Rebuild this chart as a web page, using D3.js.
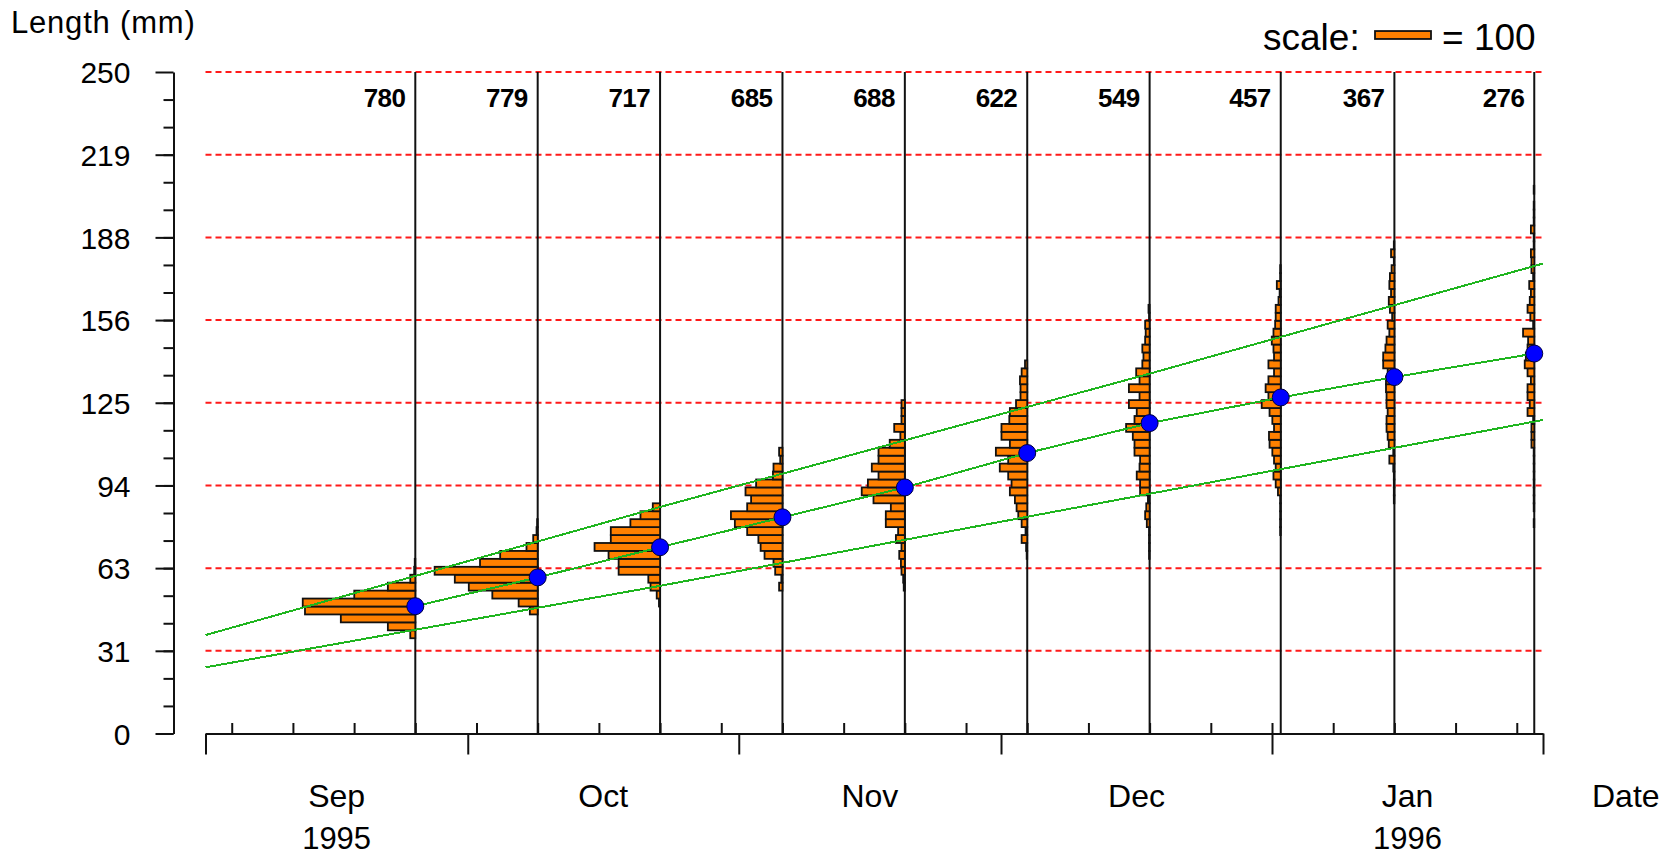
<!DOCTYPE html>
<html>
<head>
<meta charset="utf-8">
<script src="https://cdn.jsdelivr.net/npm/d3@7"></script>
<style>
  html, body { margin: 0; padding: 0; background: #fff; }
  svg { display: block; font-family: "Liberation Sans", Arial, sans-serif; }
</style>
</head>
<body>
<svg id="chart" width="1678" height="857"></svg>
<script>
// ---- Data -------------------------------------------------------------
// Fortnightly sampling dates and number of fish measured on each
const sampleDates = ["1995-09-25","1995-10-09","1995-10-23","1995-11-06","1995-11-20",
                     "1995-12-04","1995-12-18","1996-01-02","1996-01-15","1996-01-31"];
const sampleSizes = [780, 779, 717, 685, 688, 622, 549, 457, 367, 276];
// Mean length (mm) of each sample
const meanLength = [48.1, 59.0, 70.4, 81.7, 93.0, 106.0, 117.3, 127.0, 134.7, 143.6];

// Length-frequency histograms: 3 mm classes, counts listed from the lowest class up
const binWidth = 3;
const binStart = [36, 45, 48, 54, 54, 66, 66, 75, 87, 78];
const hist1  = [9, 49, 133, 197, 201, 109, 49, 9, 2, 1];
const hist2  = [14, 34, 81, 123, 148, 184, 103, 67, 20, 8, 2, 1];
const hist3  = [2, 6, 17, 21, 74, 74, 92, 117, 88, 88, 53, 35, 13];
const hist4  = [6, 2, 13, 16, 32, 39, 43, 63, 85, 92, 63, 56, 66, 47, 17, 16, 4, 6];
const hist5  = [2, 3, 6, 7, 10, 6, 16, 12, 34, 34, 25, 56, 77, 66, 47, 59, 47, 47, 27, 8, 19, 6, 6, 6];
const hist6  = [1, 2, 10, 3, 10, 16, 19, 22, 31, 28, 34, 49, 34, 56, 31, 46, 46, 32, 31, 20, 12, 12, 13, 10, 4];
const hist7  = [1, 1, 1, 1, 5, 8, 6, 3, 17, 17, 23, 18, 17, 27, 27, 30, 42, 27, 23, 37, 18, 37, 18, 24, 13, 11, 13, 8, 7, 8, 1, 2];
const hist8  = [1, 1, 1, 1, 1, 5, 9, 13, 9, 12, 15, 20, 21, 12, 15, 20, 34, 22, 27, 22, 12, 22, 12, 13, 16, 13, 10, 9, 9, 4, 2, 7, 1, 1];
const hist9  = [1, 1, 1, 1, 2, 9, 2, 10, 12, 14, 14, 12, 14, 14, 15, 15, 12, 20, 20, 16, 14, 9, 12, 4, 8, 10, 6, 9, 8, 5, 1, 6, 1];
const hist10 = [1, 0, 1, 1, 1, 1, 1, 1, 1, 1, 5, 5, 5, 2, 12, 8, 12, 12, 6, 12, 17, 15, 12, 11, 20, 2, 7, 12, 8, 6, 9, 2, 5, 5, 6, 1, 1, 6, 1, 1, 1, 0, 1];
const histograms = [hist1, hist2, hist3, hist4, hist5, hist6, hist7, hist8, hist9, hist10];

// Upper and lower growth limits
const envelopeDates = ["1995-09-01", "1995-10-23", "1995-12-18", "1996-02-01"];
const upperLimit = [37.2, 85.6, 136.0, 177.6];
const lowerLimit = [25.0, 55.8, 90.6, 118.5];

// Axes
const xDomain = ["1995-09-01", "1996-02-01"];
const yTickValues = [0, 31.25, 62.5, 93.75, 125, 156.25, 187.5, 218.75, 250];
const yTickLabels = ["0", "31", "63", "94", "125", "156", "188", "219", "250"];
const monthLabels = ["Sep", "Oct", "Nov", "Dec", "Jan"];
const yearLabels  = ["1995", "", "", "", "1996"];
const legendCount = 100;

// ---- Scales -----------------------------------------------------------
const parse = d3.timeParse("%Y-%m-%d");
const x0 = parse(xDomain[0]), x1 = parse(xDomain[1]);
const x = d3.scaleTime().domain([x0, x1]).range([205.5, 1543]);
const y = d3.scaleLinear().domain([0, 250]).range([733.5, 72]);
const w = d3.scaleLinear().domain([0, 100]).range([0, 56]);   // fish count -> bar length

const svg = d3.select("#chart");
const INK = "#111";

// ---- Dashed reference lines ------------------------------------------
svg.append("g").selectAll("line")
  .data(yTickValues.filter(v => v > 0))
  .join("line")
  .attr("x1", x(x0)).attr("x2", x(x1))
  .attr("y1", d => y(d)).attr("y2", d => y(d))
  .attr("stroke", "#ff1a1a").attr("stroke-width", 2)
  .attr("stroke-dasharray", "6,4");

// ---- Sample baselines -------------------------------------------------
const dates = sampleDates.map(parse);
svg.append("g").selectAll("line")
  .data(dates)
  .join("line")
  .attr("x1", d => x(d)).attr("x2", d => x(d))
  .attr("y1", y(0)).attr("y2", y(250))
  .attr("stroke", INK).attr("stroke-width", 2);

// ---- Histograms (bars grow to the left of each baseline) --------------
const gH = svg.append("g");
histograms.forEach((counts, i) => {
  const bx = x(dates[i]);
  const bars = counts.map((c, j) => ({ c, lo: binStart[i] + j * binWidth })).filter(d => d.c > 0);
  gH.append("g").selectAll("rect")
    .data(bars)
    .join("rect")
    .attr("x", d => bx - w(d.c))
    .attr("width", d => w(d.c))
    .attr("y", d => y(d.lo + binWidth))
    .attr("height", d => y(d.lo) - y(d.lo + binWidth))
    .attr("fill", "#ff8000")
    .attr("stroke", INK)
    .attr("stroke-width", 1.8);
});

// ---- Growth lines -----------------------------------------------------
const line = d3.line().x(d => x(d[0])).y(d => y(d[1]));
const envDates = envelopeDates.map(parse);
[upperLimit, lowerLimit].forEach(vals => {
  svg.append("path")
    .attr("d", line(envDates.map((d, i) => [d, vals[i]])))
    .attr("fill", "none").attr("stroke", "#1fb51f").attr("stroke-width", 2)
    .attr("shape-rendering", "crispEdges");
});
svg.append("path")
  .attr("d", line(dates.map((d, i) => [d, meanLength[i]])))
  .attr("fill", "none").attr("stroke", "#1fb51f").attr("stroke-width", 2)
  .attr("shape-rendering", "crispEdges");

// ---- Mean markers -----------------------------------------------------
svg.append("g").selectAll("circle")
  .data(dates)
  .join("circle")
  .attr("cx", d => x(d))
  .attr("cy", (d, i) => y(meanLength[i]))
  .attr("r", 8.5)
  .attr("fill", "#0000ff")
  .attr("stroke", "#000040").attr("stroke-width", 1);

// ---- Sample sizes -----------------------------------------------------
svg.append("g").selectAll("text")
  .data(sampleSizes)
  .join("text")
  .attr("x", (d, i) => x(dates[i]) - 10)
  .attr("y", 107)
  .attr("text-anchor", "end")
  .attr("font-size", 26).attr("font-weight", "bold")
  .attr("letter-spacing", -0.6)
  .attr("fill", "#000")
  .text(d => d);

// ---- Y axis -----------------------------------------------------------
const gy = svg.append("g").attr("transform", "translate(173.5,0)");
gy.call(d3.axisLeft(y).tickValues(d3.range(0, 250, 250 / 24)).tickSize(10).tickSizeOuter(0).tickFormat(""));
gy.append("g").call(d3.axisLeft(y).tickValues(yTickValues).tickSize(18).tickSizeOuter(0)
  .tickPadding(25).tickFormat((d, i) => yTickLabels[i]))
  .select(".domain").remove();
gy.selectAll("path, line").attr("stroke", INK).attr("stroke-width", 2);
gy.selectAll("text").attr("font-size", 30).attr("font-family", "Liberation Sans, Arial, sans-serif")
  .attr("fill", "#000").attr("dy", "0.36em");

svg.append("text")
  .attr("x", 11).attr("y", 33)
  .attr("font-size", 31).attr("letter-spacing", 0.8).attr("fill", "#000")
  .text("Length (mm)");

// ---- X axis -----------------------------------------------------------
const gx = svg.append("g").attr("transform", `translate(0,${y(0)})`);
gx.call(d3.axisBottom(x)
  .tickValues(d3.timeMonth.range(x0, d3.timeDay.offset(x1, 1)))
  .tickSize(21).tickSizeOuter(0).tickFormat(""));
gx.append("g").call(d3.axisTop(x)
  .tickValues(d3.timeMonday.range(x0, x1))
  .tickSize(10.5).tickSizeOuter(0).tickFormat(""))
  .select(".domain").remove();
gx.selectAll("path, line").attr("stroke", INK).attr("stroke-width", 2);

const months = d3.timeMonth.range(x0, x1);
const mid = (m) => (x(m) + x(d3.timeMonth.offset(m, 1))) / 2;
svg.append("g").selectAll("text")
  .data(monthLabels)
  .join("text")
  .attr("x", (d, i) => mid(months[i]))
  .attr("y", 807)
  .attr("text-anchor", "middle")
  .attr("font-size", 32).attr("fill", "#000")
  .text(d => d);
svg.append("g").selectAll("text")
  .data(yearLabels)
  .join("text")
  .attr("x", (d, i) => mid(months[i]))
  .attr("y", 849)
  .attr("text-anchor", "middle")
  .attr("font-size", 31).attr("fill", "#000")
  .text(d => d);
svg.append("text")
  .attr("x", 1592).attr("y", 807)
  .attr("font-size", 32).attr("fill", "#000")
  .text("Date");

// ---- Scale legend -----------------------------------------------------
const lg = svg.append("g");
const barH = y(0) - y(binWidth);
lg.append("text").attr("x", 1263).attr("y", 50).attr("font-size", 37).attr("fill", "#000").text("scale:");
lg.append("rect")
  .attr("x", 1375).attr("y", 35 - barH / 2)
  .attr("width", w(legendCount))
  .attr("height", barH)
  .attr("fill", "#ff8000").attr("stroke", INK).attr("stroke-width", 1.8);
lg.append("text").attr("x", 1442).attr("y", 50).attr("font-size", 37).attr("fill", "#000").text("= 100");
</script>
</body>
</html>
